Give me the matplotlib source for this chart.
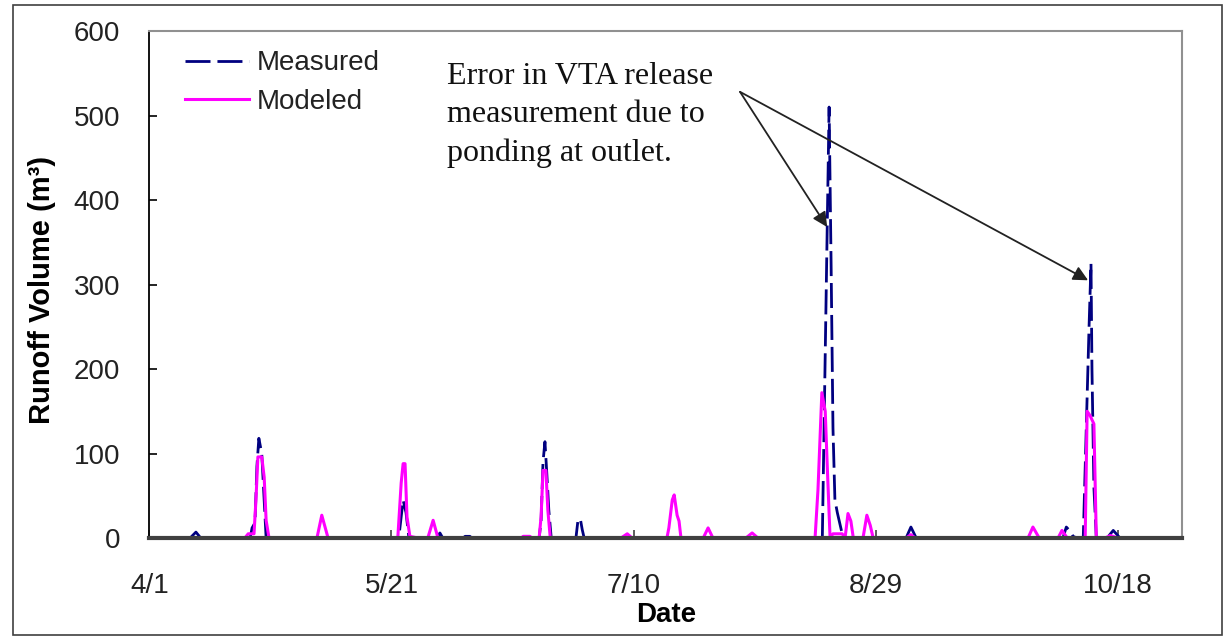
import matplotlib
matplotlib.use("Agg")
import matplotlib.pyplot as plt
from matplotlib.patches import Rectangle

plt.rcParams['font.family'] = ['Liberation Sans', 'DejaVu Sans']

# Days counted from 4/1, runoff volume in m3
measured_day = [0,
                8.4, 9.6, 10.6,
                20.8, 21.2, 21.8, 22.2, 22.6, 23.2, 24.1,
                51.5, 52.4, 53.0, 53.6,
                59.4, 60.0, 60.6,
                64.8, 65.2, 66.2, 66.6,
                80.5, 80.9, 81.3, 81.7, 82.1, 82.5, 83.0,
                88.1, 88.5, 89.0, 89.4, 89.8,
                139.0, 140.4, 140.8, 141.2, 141.6, 142.1, 142.7, 143.3,
                156.3, 157.3, 158.4,
                188.7, 189.4, 190.2, 190.8, 191.6,
                192.9, 194.1, 194.5, 194.7, 195.1, 195.6,
                197.8, 199.1, 200.5,
                213.3]
measured_q = [0,
              0, 7, 0,
              0, 12, 18, 85, 118, 100, 0,
              0, 45, 30, 0,
              0, 6, 0,
              0, 2, 2, 0,
              0, 20, 90, 114, 75, 33, 0,
              0, 20, 23, 10, 0,
              0, 510, 330, 130, 45, 30, 15, 0,
              0, 13, 0,
              0, 13, 8, 2, 0,
              0, 250, 325, 200, 60, 0,
              0, 9, 0,
              0]

modeled_day = [0,
               19.7, 20.4, 21.6, 22.0, 22.4, 23.2, 23.7, 24.1, 24.7,
               34.6, 35.6, 36.9,
               51.3, 52.0, 52.4, 52.8, 53.2, 53.8, 55.5,
               57.5, 58.6, 59.6,
               76.8, 77.2, 78.6, 79.0,
               80.5, 80.9, 81.3, 81.9, 82.3, 82.8,
               97.4, 98.7, 99.7,
               106.9, 107.3, 108.0, 108.4, 109.0, 109.4, 109.8,
               114.4, 115.4, 116.4,
               123.2, 124.5, 125.7,
               137.5, 138.1, 138.9, 139.6, 140.0, 140.6, 141.2, 143.1, 143.7,
               144.3, 144.9, 145.4,
               147.4, 148.2, 148.9, 149.5,
               156.3, 157.3, 158.2,
               181.5, 182.5, 183.8,
               187.7, 188.5, 189.6,
               193.3, 193.7, 194.3, 195.1, 195.6,
               197.4, 198.5, 200.1,
               213.3]
modeled_q = [0,
             0, 5, 5, 45, 96, 96, 72, 21, 0,
             0, 27, 0,
             0, 65, 88, 88, 25, 2, 0,
             0, 21, 0,
             0, 2, 2, 0,
             0, 25, 80, 80, 33, 0,
             0, 5, 0,
             0, 12, 45, 51, 27, 20, 0,
             0, 12, 0,
             0, 6, 0,
             0, 57, 172, 150, 88, 0, 5, 5, 0,
             29, 20, 0,
             0, 27, 15, 0,
             0, 4, 0,
             0, 13, 0,
             0, 9, 0,
             0, 150, 145, 135, 0,
             0, 3, 0,
             0]

tick_days = [0, 50, 100, 150, 200]
tick_labels = ['4/1', '5/21', '7/10', '8/29', '10/18']
y_ticks = [0, 100, 200, 300, 400, 500, 600]

fig = plt.figure(figsize=(12.25, 6.38), dpi=100)
ax = fig.add_axes([0.1220, 0.1567, 0.8429, 0.7947])

ax.plot(measured_day, measured_q, color='#000080', lw=2.0, dashes=(9, 2.5),
        dash_capstyle='butt', label='Measured')
ax.plot(modeled_day, modeled_q, color='#FF00FF', lw=2.2, label='Modeled')

ax.set_xlim(0, 213.3)
ax.set_ylim(0, 600)
ax.set_xticks(tick_days)
ax.set_xticklabels(tick_labels)
ax.set_yticks(y_ticks)

ax.tick_params(axis='both', direction='in', labelsize=20, labelcolor='#222222')
ax.tick_params(axis='y', length=6, width=1.2, pad=21, color='#000000')
ax.tick_params(axis='x', length=6, width=1.2, pad=25, color='#404040')

ax.spines['left'].set_color('#000000')
ax.spines['left'].set_linewidth(1.3)
# thick x axis line sits on top of the zero-level parts of both series
ax.spines['bottom'].set_color('#404040')
ax.spines['bottom'].set_linewidth(3.0)
for side in ['top', 'right']:
    ax.spines[side].set_color('#909090')
    ax.spines[side].set_linewidth(1.5)

ax.set_ylabel('Runoff Volume (m³)', fontsize=21, fontweight='bold', va='center')
ax.yaxis.set_label_coords(-0.104, 0.49)
ax.set_xlabel('Date', fontsize=20, fontweight='bold')
ax.xaxis.set_label_coords(0.5, -0.127)

leg = ax.legend(loc='upper left', bbox_to_anchor=(0.0344, 0.962), frameon=False,
                fontsize=20, handlelength=2.3, handletextpad=0.3,
                labelspacing=0.45, borderpad=0, borderaxespad=0)
for t in leg.get_texts():
    t.set_color('#222222')

# Note about the two measured peaks
ax.text(61.5, 563, 'Error in VTA release\nmeasurement due to\nponding at outlet.',
        family=['Liberation Serif', 'DejaVu Serif'], fontsize=23,
        va='top', ha='left', linespacing=1.4, color='#111111')
arrow_style = dict(arrowstyle='-|>', color='#222222', lw=1.3,
                   mutation_scale=22, shrinkA=0, shrinkB=0)
ax.annotate('', xy=(140.0, 368), xytext=(122.0, 528), arrowprops=arrow_style)
ax.annotate('', xy=(193.9, 305), xytext=(122.0, 528), arrowprops=arrow_style)

# chart border
fig.add_artist(Rectangle((0.0106, 0.0047), 0.987, 0.9875, transform=fig.transFigure,
                         fill=False, ec='#404040', lw=1.2))

fig.savefig('out.png', dpi=100, facecolor='white')
plt.close(fig)
